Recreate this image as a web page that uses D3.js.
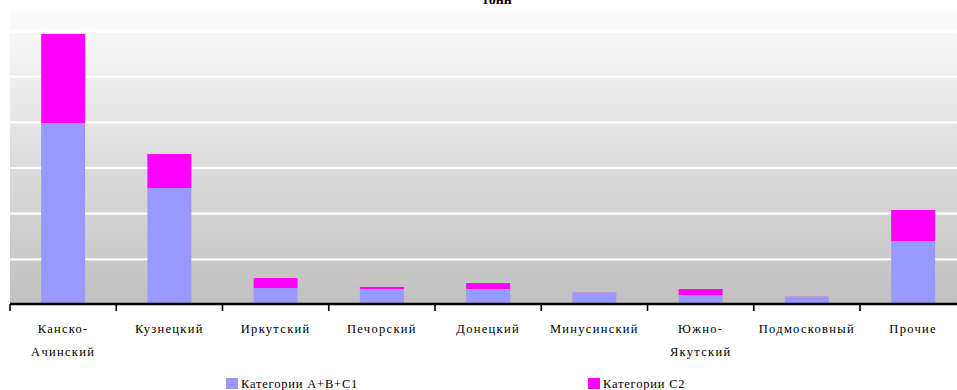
<!DOCTYPE html>
<html>
<head>
<meta charset="utf-8">
<script src="https://cdn.jsdelivr.net/npm/d3@7/dist/d3.min.js"></script>
<style>
  html, body { margin: 0; padding: 0; background: #ffffff; }
  svg { display: block; }
  text { font-family: "Liberation Serif", "Times New Roman", serif; fill: #000; }
</style>
</head>
<body>
<svg id="chart" width="957" height="390"></svg>
<script>
// Coal reserves by basin, billion tonnes
const basins = [
  ["Канско-", "Ачинский"],
  ["Кузнецкий"],
  ["Иркутский"],
  ["Печорский"],
  ["Донецкий"],
  ["Минусинский"],
  ["Южно-", "Якутский"],
  ["Подмосковный"],
  ["Прочие"]
];
const reservesABC1 = [79.7, 51.2, 7.4, 7.0, 7.0, 5.3, 4.4, 3.5, 28.0];
const reservesC2   = [39.0, 14.9, 4.4, 0.9, 2.6, 0.1, 2.6, 0.1, 13.6];
const seriesNames  = ["Категории А+В+С1", "Категории С2"];
const gridTicks    = [0, 20, 40, 60, 80, 100, 120];

const colors = ["#9999ff", "#ff00ff"];

const svg = d3.select("#chart");
const keys = basins.map(b => b.join(""));

const plot = { left: 10, right: 966.25, top: 10, bottom: 305 };

const x = d3.scaleBand().domain(keys).range([plot.left, plot.right]).padding(0);
const barW = x.bandwidth() * 0.414;
const y = d3.scaleLinear().domain([0, 120]).range([305, 31]);

// plot background: vertical gradient light to grey
const defs = svg.append("defs");
const grad = defs.append("linearGradient").attr("id", "bg")
  .attr("x1", 0).attr("y1", 0).attr("x2", 0).attr("y2", 1);
grad.append("stop").attr("offset", "0%").attr("stop-color", "#fcfcfc");
grad.append("stop").attr("offset", "100%").attr("stop-color", "#c0c0c0");

svg.append("rect")
  .attr("x", plot.left).attr("y", plot.top)
  .attr("width", plot.right - plot.left).attr("height", plot.bottom - plot.top)
  .attr("fill", "url(#bg)");

// horizontal white gridlines
svg.append("g").selectAll("line")
  .data(gridTicks.filter(d => d > 0))
  .join("line")
  .attr("x1", plot.left).attr("x2", plot.right)
  .attr("y1", d => y(d)).attr("y2", d => y(d))
  .attr("stroke", "#ffffff")
  .attr("stroke-width", d => d === 120 ? 4 : 2.2);

// stacked bars
const stackData = keys.map((k, i) => ({ key: k, abc1: reservesABC1[i], c2: reservesC2[i] }));
const stack = d3.stack().keys(["abc1", "c2"])(stackData);

svg.append("g").selectAll("g")
  .data(stack)
  .join("g")
  .attr("fill", (d, i) => colors[i])
  .selectAll("rect")
  .data(d => d)
  .join("rect")
  .attr("x", d => x(d.data.key) + (x.bandwidth() - barW) / 2)
  .attr("width", barW)
  .attr("y", d => y(d[1]))
  .attr("height", d => y(d[0]) - y(d[1]));

// category axis
const axisY = 304;
const axis = svg.append("g");
axis.append("line")
  .attr("x1", plot.left).attr("x2", plot.right)
  .attr("y1", axisY).attr("y2", axisY)
  .attr("stroke", "#000").attr("stroke-width", 2.4);

const tickPos = keys.map(k => x(k)).concat([x(keys[keys.length - 1]) + x.bandwidth()]);
axis.selectAll("line.tick")
  .data(tickPos)
  .join("line")
  .attr("class", "tick")
  .attr("x1", d => d).attr("x2", d => d)
  .attr("y1", axisY).attr("y2", axisY + 7)
  .attr("stroke", "#000").attr("stroke-width", 1.6);

const labels = axis.selectAll("text.cat")
  .data(basins)
  .join("text")
  .attr("class", "cat")
  .attr("text-anchor", "middle")
  .attr("font-size", 12.5)
  .attr("letter-spacing", 1.3)
  .attr("x", (d, i) => x(keys[i]) + x.bandwidth() / 2)
  .attr("y", 333);
labels.selectAll("tspan")
  .data(d => d)
  .join("tspan")
  .attr("x", function () { return this.parentNode.getAttribute("x"); })
  .attr("dy", (d, i) => i === 0 ? 0 : 23)
  .text(d => d);

// title (bottom line)
svg.append("text")
  .attr("x", 497).attr("y", 4)
  .attr("text-anchor", "middle")
  .attr("font-size", 14).attr("font-weight", "bold")
  .text("тонн");

// legend
const legendX = [226, 588];
const legend = svg.append("g").selectAll("g")
  .data(seriesNames)
  .join("g")
  .attr("transform", (d, i) => `translate(${legendX[i]},378)`);
legend.append("rect")
  .attr("width", 12).attr("height", 11)
  .attr("fill", (d, i) => colors[i]);
legend.append("text")
  .attr("x", 15).attr("y", 10)
  .attr("font-size", 12.5)
  .attr("letter-spacing", 0.8)
  .text(d => d);
</script>
</body>
</html>
